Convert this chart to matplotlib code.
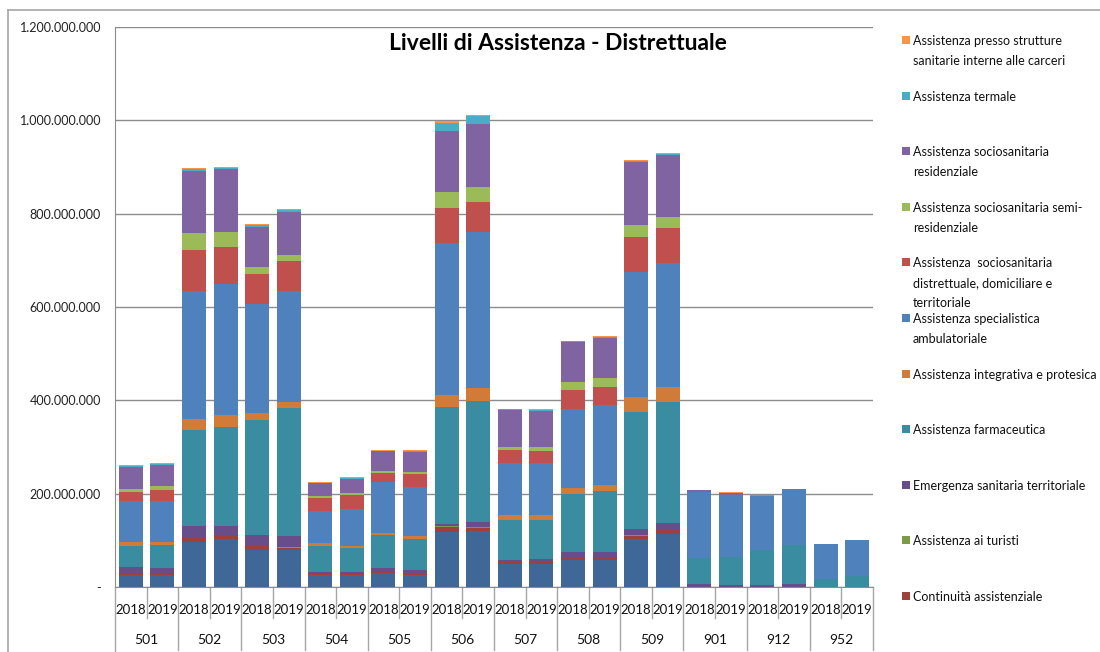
import matplotlib
matplotlib.use("Agg")
import matplotlib.pyplot as plt
from matplotlib.ticker import FuncFormatter, MultipleLocator
from matplotlib.patches import Rectangle
from matplotlib.lines import Line2D
import numpy as np

plt.rcParams['font.family'] = ['Lato', 'DejaVu Sans']

groups = ['501', '502', '503', '504', '505', '506', '507', '508', '509', '901', '912', '952']
years = ['2018', '2019']

# values in millions of euro, one entry per bar (group x year)
base = [25, 25, 97, 102, 80, 80, 25, 25, 30, 25, 118.7, 120.9, 48.6, 48.6, 58.7, 58.7, 102.3, 113.7, 0, 0, 0, 0, 0, 0]
continuita = [5, 5, 10, 8.6, 8, 4, 3, 3, 2, 3.6, 10.7, 6.4, 4.3, 5.7, 5, 5, 6.4, 10, 0, 0, 0, 0, 0, 0]
turisti = [0.5, 0.5, 0.5, 0.5, 0.5, 2, 0.3, 0.3, 0.3, 0.3, 0.5, 0.5, 0.3, 0.3, 0.3, 0.3, 3.6, 0.5, 0, 0, 0, 0, 0, 0]
emergenza = [11.4, 11, 23.6, 20, 23, 24, 3, 3, 9.3, 7, 5.7, 11.4, 4.3, 5, 10.7, 10.7, 11.4, 12.9, 7.2, 5, 5, 7.2, 0, 0]
farmaceutica = [47, 48, 206, 211, 247, 274, 57, 51.5, 69.4, 68, 251, 259.6, 86.6, 84.4, 123.7, 130.9, 251.8, 259.7, 55, 59.4, 75.1, 82.3, 17.9, 23.6]
integrativa = [7, 6.4, 23, 25.7, 15, 13, 5, 5, 5, 5, 25, 28.6, 10, 10, 12.9, 12.9, 30.8, 30.8, 0, 0, 0, 0, 0, 0]
specialistica = [89, 89, 275, 282, 234, 237, 68.7, 79.4, 108, 104.5, 324.7, 334, 110.9, 110.9, 169.5, 172.3, 269.7, 266.8, 141.6, 133.8, 115.2, 120.2, 74.4, 76.5]
distrettuale = [18, 22, 87.5, 78, 64, 64, 28.6, 30.8, 20, 28.6, 76.5, 64.4, 28.6, 25.7, 40.8, 38.6, 74.4, 74.4, 0, 0, 0, 0, 0, 0]
semiresid = [7, 8.6, 35.8, 33, 13.6, 13, 4.3, 2.8, 3.6, 5, 33.6, 30.8, 7.2, 10, 18.6, 17.9, 25.7, 23.6, 0, 0, 0, 0, 0, 0]
residenziale = [47, 46, 134, 135, 87, 93, 27, 30.8, 43, 43, 131, 136, 78, 77.3, 84.4, 87.3, 133.8, 133, 3.6, 4.3, 0, 0, 0, 0]
termale = [3, 2, 3.6, 3, 3, 3, 2, 2.9, 1.5, 2, 17.9, 15.7, 2.1, 2.1, 1.5, 2.1, 2.9, 2.9, 0, 0, 1, 0, 0, 0]
carceri = [2, 1.4, 2, 2, 2, 2, 0.6, 0.6, 1.5, 1.5, 2.9, 2.9, 0.6, 0.7, 1.4, 2.1, 2.1, 2.1, 0.5, 0.5, 0, 0.5, 0, 0]

# stacking order bottom -> top
series = [
    ("Assistenza sanitaria di base", base, "#3F6899", False),
    ("Continuità assistenziale", continuita, "#9E403D", True),
    ("Assistenza ai turisti", turisti, "#7D9A46", True),
    ("Emergenza sanitaria territoriale", emergenza, "#674E8A", True),
    ("Assistenza farmaceutica", farmaceutica, "#3A8CA0", True),
    ("Assistenza integrativa e protesica", integrativa, "#D07C38", True),
    ("Assistenza specialistica\nambulatoriale", specialistica, "#4F81BD", True),
    ("Assistenza  sociosanitaria\ndistrettuale, domiciliare e\nterritoriale", distrettuale, "#C0504D", True),
    ("Assistenza sociosanitaria semi-\nresidenziale", semiresid, "#9BBB59", True),
    ("Assistenza sociosanitaria\nresidenziale", residenziale, "#8064A2", True),
    ("Assistenza termale", termale, "#4BACC6", True),
    ("Assistenza presso strutture\nsanitarie interne alle carceri", carceri, "#F79646", True),
]

W, H = 1100, 652
fig = plt.figure(figsize=(W / 100, H / 100), dpi=100)
fig.patch.set_facecolor("white")

ax_l, ax_r, ax_t, ax_b = 115, 873, 27, 587
ax = fig.add_axes([ax_l / W, 1 - ax_b / H, (ax_r - ax_l) / W, (ax_b - ax_t) / H])

n = len(groups) * len(years)
x = np.arange(n)
bottom = np.zeros(n)
for name, vals, col, _ in series:
    v = np.array(vals) * 1e6
    ax.bar(x, v, 0.76, bottom=bottom, color=col, edgecolor='none', zorder=3)
    bottom += v

ax.set_xlim(-0.5, n - 0.5)
ax.set_ylim(0, 1.2e9)
ax.yaxis.set_major_locator(MultipleLocator(2e8))
ax.yaxis.set_major_formatter(FuncFormatter(lambda v, p: "-" if v == 0 else f"{v:,.0f}".replace(",", ".")))
ax.grid(axis='y', color='#8C8C8C', linewidth=1.0, zorder=0)
for s in ['top', 'right']:
    ax.spines[s].set_visible(False)
ax.spines['left'].set_color('#8C8C8C')
ax.spines['bottom'].set_color('#8C8C8C')
ax.spines['left'].set_bounds(0, 1.2e9)
ax.tick_params(axis='y', length=0, labelsize=9, pad=10, colors='#222222')
ax.set_xticks(x)
ax.set_xticklabels(years * len(groups))
ax.tick_params(axis='x', length=0, labelsize=9.5, pad=12, colors='#111111')

# category separators
trans = ax.get_xaxis_transform()
h = ax_b - ax_t
y_year = -(618 - ax_b) / h
y_grp = -(650 - ax_b) / h
for i in range(n + 1):
    xx = i - 0.5
    y_end = y_grp if i % 2 == 0 else y_year
    if i == 0:
        y_end = -(652 - ax_b) / h - 0.01
    ax.add_line(Line2D([xx, xx], [0, y_end], transform=trans, color='#A6A6A6', lw=1.0, clip_on=False))
for gi, g in enumerate(groups):
    ax.text(gi * 2 + 0.5, -(640 - ax_b) / h, g, transform=trans, ha='center', va='center', fontsize=10, color='#111111')

# title
fig.text(558 / W, 1 - 43 / H, "Livelli di Assistenza - Distrettuale", ha='center', va='center',
         fontsize=16.5, fontweight='bold', color='black')

# legend (top entry first)
for i, (name, vals, col, show) in enumerate(reversed(series)):
    if not show:
        continue
    yy = 40 + i * 55.6
    fig.patches.append(Rectangle((902 / W, 1 - (yy + 4) / H), 8 / W, 8 / H, transform=fig.transFigure,
                                 facecolor=col, edgecolor='none'))
    fig.text(913 / W, 1 - (yy - 5) / H, name, ha='left', va='top', fontsize=9,
             color='#111111', linespacing=1.8)

# sheet frame lines
fig.add_artist(Line2D([8 / W, 1], [1 - 10 / H, 1 - 10 / H], transform=fig.transFigure, color='#A6A6A6', lw=1.2))
fig.add_artist(Line2D([8 / W, 8 / W], [0, 1 - 10 / H], transform=fig.transFigure, color='#A6A6A6', lw=1.2))

fig.savefig("out.png", dpi=100)
